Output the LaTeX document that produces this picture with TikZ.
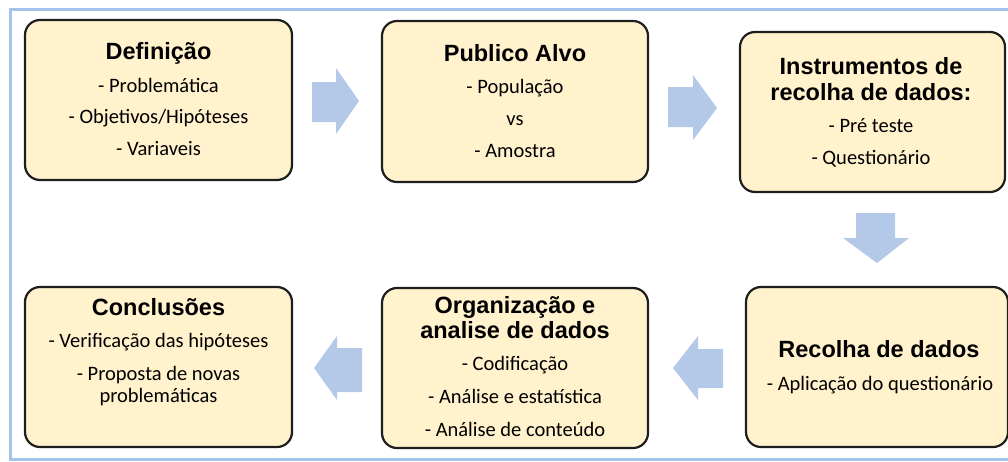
\documentclass[tikz,border=0pt]{standalone}
\usepackage{fontspec}
\setmainfont{Carlito}
\newfontfamily\titlefont{Liberation Sans}
\definecolor{boxfill}{HTML}{FFF2CC}
\definecolor{boxline}{HTML}{1E1E1E}
\definecolor{arrowfill}{HTML}{B4C8E8}
\definecolor{framecol}{HTML}{A5C3EA}
\tikzset{
  stagebox/.style={draw=boxline, line width=2.2pt, fill=boxfill, rounded corners=15pt},
  ttl/.style={anchor=base, inner sep=0pt, font=\titlefont\bfseries\fontsize{23.5}{26}\selectfont},
  itm/.style={anchor=base, inner sep=0pt, font=\fontsize{20.5}{24}\selectfont},
  blockarrow/.style={fill=arrowfill, draw=none}
}
\begin{document}
\begin{tikzpicture}[x=1pt,y=-1pt]
\useasboundingbox (0,0) rectangle (1008,461);
% outer frame
\draw[framecol, line width=3pt] (1015,9) -- (10,9) -- (10,459.5) -- (1015,459.5);
% boxes
\draw[stagebox] (25,20) rectangle (292,180);
\draw[stagebox] (382,21) rectangle (648,182);
\draw[stagebox] (740,32) rectangle (1005,192);
\draw[stagebox] (746,287) rectangle (1008,447);
\draw[stagebox] (382,288) rectangle (648,448);
\draw[stagebox] (25,287) rectangle (292,447);
% box 1
\node[ttl] (t1) at (158.5,59) {Definição};
\node[itm] (a1) at (158.5,92) {- Problemática};
\node[itm] (b1) at (158.5,123) {- Objetivos/Hipóteses};
\node[itm] (c1) at (158.5,155) {- Variaveis};
% box 2
\node[ttl] (t2) at (515,61) {Publico Alvo};
\node[itm] (a2) at (515,93) {- População};
\node[itm] (b2) at (515,125) {vs};
\node[itm] (c2) at (515,157) {- Amostra};
% box 3
\node[ttl] (t3a) at (871,74) {Instrumentos de};
\node[ttl] (t3b) at (871,100) {recolha de dados:};
\node[itm] (a3) at (871,132) {- Pré teste};
\node[itm] (b3) at (871,164) {- Questionário};
% box 4
\node[ttl] (t4) at (879,357) {Recolha de dados};
\node[itm] (a4) at (880,390) {- Aplicação do questionário};
% box 5
\node[ttl] (t5a) at (515,313) {Organização e};
\node[ttl] (t5b) at (515,338) {analise de dados};
\node[itm] (a5) at (515,370) {- Codificação};
\node[itm] (b5) at (515,403) {- Análise e estatística};
\node[itm] (c5) at (515,436) {- Análise de conteúdo};
% box 6
\node[ttl] (t6) at (158.5,315) {Conclusões};
\node[itm] (a6) at (158.5,347) {- Verificação das hipóteses};
\node[itm] (b6) at (158.5,380) {- Proposta de novas};
\node[itm] (c6) at (158.5,402) {problemáticas};
% block arrows
\fill[blockarrow] (312,82) -- (336,82) -- (336,68) -- (359,101) -- (336,134) -- (336,122) -- (312,122) -- cycle;
\fill[blockarrow] (668,87) -- (693,87) -- (693,75) -- (717,108) -- (693,140) -- (693,127) -- (668,127) -- cycle;
\fill[blockarrow] (856,213) -- (895,213) -- (895,238) -- (909,238) -- (877,263) -- (843,238) -- (856,238) -- cycle;
\fill[blockarrow] (723,349) -- (698,349) -- (698,336) -- (673,368) -- (698,400) -- (698,388) -- (723,388) -- cycle;
\fill[blockarrow] (362,348) -- (337,348) -- (337,336) -- (314,368) -- (337,400) -- (337,392) -- (362,392) -- cycle;
\end{tikzpicture}
\end{document}
